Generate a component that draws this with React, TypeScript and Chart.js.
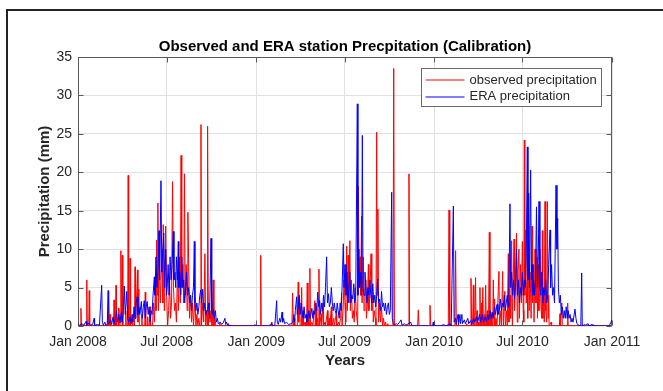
import React, { useEffect, useRef } from "react";
import { Chart, registerables } from "chart.js";

Chart.register(...registerables);

// ---------- data ----------
const chartTitle = "Observed and ERA station Precpitation (Calibration)";
const xAxisTitle = "Years";
const yAxisTitle = "Precipitation (mm)";

// x axis: days since 1 Jan 2008
const xTickDays = [0, 182, 366, 547, 731, 912, 1096];
const xTickLabels = ["Jan 2008", "Jul 2008", "Jan 2009", "Jul 2009", "Jan 2010", "Jul 2010", "Jan 2011"];
const yMin = 0;
const yMax = 35;
const yStep = 5;

const seriesLabels = ["observed precipitation", "ERA precipitation"];
const seriesColors = ["#ff0000", "#0000ff"];

// [day, mm]
const observedPrecip: [number, number][] = [
  [0, 0], [5, 0], [6, 2.3], [7, 0], [17, 0], [18, 6.0], [19, 0], [22, 0], [23, 4.6], [24, 0],
  [61, 0], [62, 4.6], [63, 0], [65, 0], [66, 1.5], [67, 0], [73, 0], [74, 3.4], [75, 0], [77, 0], [78, 5.3], [79, 0],
  [82, 0], [83, 2.3], [84, 0], [87, 0], [88, 9.8], [89, 0.5], [91, 9.2], [92, 0], [97, 0], [98, 2.0], [99, 0],
  [102, 0], [103, 19.6], [104, 0], [106, 0], [107, 8.8], [108, 0], [111, 0], [112, 1.5], [113, 0], [116, 0],
  [117, 7.7], [118, 1], [120, 3], [122, 7.3], [123, 0.5], [125, 4.8], [126, 0], [130, 0], [131, 1.5], [132, 0],
  [137, 0], [138, 4.4], [139, 0], [142, 0], [143, 1.2], [144, 0], [147, 0], [148, 2.5], [149, 0], [153, 0],
  [155, 3], [157, 0.5], [159, 6], [160, 2], [161.5, 11.2], [163, 4], [164, 16], [165, 2], [167, 9], [169, 3],
  [171, 7], [173, 10], [174, 3], [175, 13.2], [177, 2], [178, 6], [180, 13], [182, 4], [184, 0], [186, 2],
  [188, 6], [190, 1], [192, 3], [194, 18.8], [196, 5], [198, 2], [200, 3], [202, 0.5], [204, 7], [206, 2],
  [208, 9], [210, 3], [211.5, 22.2], [213, 5], [215, 8], [217, 3], [218.5, 19.8], [220, 4], [222, 8], [224, 2],
  [225.5, 14.8], [227, 8.8], [229, 1], [231, 4], [233, 0.5], [235, 3], [237, 0], [240, 3.6], [242, 0], [244, 1.5],
  [246, 0], [248, 1], [250, 0], [251, 0], [252.4, 26.2], [253.5, 0], [256, 3], [258, 0.5], [260.5, 9.4], [262, 0],
  [264, 2], [265, 0], [266, 26.0], [267.5, 0], [269, 3], [271, 0.5], [273, 2], [275, 0], [277.5, 6.0], [279, 0],
  [281, 1], [283, 0], [290, 0], [291, 0.4], [292, 0], [307, 0], [308, 0.3], [309, 0],
  [374, 0], [375, 9.2], [376, 0], [396, 0], [397, 0.5], [398, 0], [439, 0], [440.5, 4.3], [442, 0], [444, 1],
  [445, 0], [450, 0], [452, 5.7], [453, 0.5], [455, 3.5], [456, 0], [458, 0], [459, 5.0], [460, 0], [462, 2],
  [463, 0], [466, 0.5], [467, 0], [469, 0], [470.5, 5.6], [472, 0], [474, 1], [475, 0], [476, 7.5], [477, 0],
  [480, 0.5], [482, 0], [484, 1.5], [486, 3.3], [487, 0], [489, 2.5], [490, 0], [492, 1], [493, 0], [494.5, 7.4],
  [496, 0], [499, 1.5], [500, 0], [503, 3], [504, 0], [507, 0.5], [508, 0], [512, 2], [513, 0], [516, 1], [517, 0],
  [520, 2.5], [521, 0], [525, 1], [526, 0], [530, 1.5], [531, 0], [535, 0.5], [536, 0], [539, 1], [541, 4.3],
  [542, 0], [544, 2], [546, 6], [548, 3], [549.5, 0.5], [551.5, 10.4], [553, 2], [554.5, 9.2], [556, 3],
  [558, 11.1], [559, 2], [561, 6], [563, 1], [565, 2], [567, 0.5], [569, 5], [571, 2], [574, 0], [575.5, 18.2],
  [577, 5], [579, 9], [580, 4], [582, 14.3], [583, 3], [585.5, 9], [587, 2], [589, 4], [591, 6], [592, 1],
  [594, 3], [596, 8], [597, 2], [599, 4], [601.5, 9.4], [603, 2], [605, 4], [606, 0.5], [608, 2], [610, 1],
  [611.5, 0], [613, 25.2], [614, 4], [615.5, 15.2], [617, 0.5], [619, 3], [621, 0.5], [623, 2.5], [625, 0],
  [627, 1], [629, 0], [631, 0.5], [633, 0], [636, 0.3], [637, 0], [646.5, 0], [648, 33.5], [649.5, 0],
  [678, 0], [679.3, 19.8], [680.5, 0], [697, 0], [698.5, 2.1], [700, 0], [721, 0], [722.4, 2.7], [724, 0],
  [760, 0], [761.5, 15.1], [763, 0], [773.5, 0], [775, 9.8], [776.5, 0], [797, 0], [798, 0.3], [799, 0],
  [805, 0], [806.6, 6.2], [808, 0], [810, 0.5], [811.4, 5.3], [812.5, 0], [814.5, 0], [816, 6.3], [817, 0],
  [819, 2], [820, 0], [822, 0.5], [823, 0], [824, 0], [825, 5], [826, 0], [828, 3], [829, 0], [831, 5], [832, 0],
  [834, 1.5], [835, 0], [836.7, 5.3], [838, 0], [840, 2], [841, 0], [842.5, 0], [844.2, 12.2], [845.5, 0],
  [848, 1.5], [849, 0], [851, 0], [852.4, 6], [854, 0], [855, 3.5], [856, 0], [858, 1], [860, 0], [862, 0],
  [864, 7.1], [865, 0], [868, 2], [869, 0], [870, 0], [871.6, 7.1], [873, 0], [876, 4.5], [877, 0], [880, 2],
  [881, 0], [882, 0], [883.2, 9.4], [884.5, 0.5], [887, 4], [888, 1], [890, 11.1], [891.5, 0], [893, 5],
  [895, 11.3], [896, 2], [898, 6], [900, 12.1], [901.5, 0.5], [903, 7], [905, 10], [906, 1], [908, 8], [910, 3],
  [912, 11], [914, 2], [915, 0.5], [916, 24.2], [917, 4], [919, 12.5], [920, 3], [922, 6], [923, 1], [925, 13],
  [926, 2], [928, 7], [930, 1], [932, 13], [933, 3], [935, 8], [936, 0.5], [938, 10], [940, 3], [942, 9],
  [943, 1], [945, 8], [946, 2], [948, 10], [950, 3], [951.5, 1], [953, 12.4], [954, 1], [956, 4], [957, 0.5],
  [958.5, 16.2], [960, 2], [962, 0.5], [963.3, 16.2], [965, 1], [966, 4], [967, 0], [971, 0.5], [972, 0],
  [988, 0], [989.3, 1.6], [990, 0], [993, 3], [994, 0], [1004, 0], [1005, 3], [1006, 0], [1096, 0],
];

const eraPrecip: [number, number][] = [
  [0, 0.2], [3, 0.1], [8, 0.3], [12, 0.1], [16.5, 0.6], [18, 0.1], [22, 0.4], [25, 0.1], [30, 0.2], [33, 1.0],
  [34, 0.1], [40, 0.2], [44, 0.1], [48.6, 5.3], [50, 0.5], [52, 0.1], [55, 0.5], [57, 0.1], [60, 0.2],
  [62.3, 4.6], [64, 0.3], [67, 0.8], [69, 0.2], [72, 1.2], [74, 0.3], [77, 1.0], [79, 2], [81, 0.5], [84, 1.5],
  [86, 0.4], [89, 1.8], [91, 0.5], [93, 2], [95, 5.2], [97, 1.5], [100, 4.5], [102, 1], [104, 0.5], [107, 1.2],
  [109, 0.3], [111, 1.5], [113, 0.5], [115, 2.5], [117, 1], [119, 3], [121.8, 3.8], [123, 1.5], [125, 2.5],
  [127, 1.5], [130, 3.2], [132, 1], [134, 2.5], [136, 3.3], [138, 1], [140, 2.5], [142, 3.2], [144, 1.5],
  [146, 2.5], [148, 0.5], [150, 2], [152, 1.5], [154, 4], [156.7, 6.4], [158, 4], [160, 9], [162, 5], [164, 7],
  [166.3, 12.4], [167.5, 6], [170.3, 18.9], [172, 7], [174, 10], [176, 12.1], [178, 5], [180, 10], [181.5, 4],
  [183, 5], [185, 8], [187, 4], [189, 9], [191, 6], [193, 8], [195.6, 12.3], [197, 6], [199, 7], [200.5, 5],
  [202, 9], [204, 6], [205.9, 11], [207, 5], [209, 7], [211, 4], [213, 9], [215, 5], [217, 6], [219, 3], [221, 5],
  [223, 7], [225, 4], [227, 5], [229, 3], [231, 4], [233, 2], [235, 4], [237, 5], [238.7, 11], [240, 3], [242, 2],
  [244, 3], [246, 1.5], [248, 2.5], [250, 4], [252, 4.7], [254, 3], [256, 4.8], [258, 2], [260, 3], [262, 1.5],
  [264, 2], [266, 2], [268, 3], [270, 1], [273, 11.4], [274.5, 2], [276, 1.5], [278, 2.2], [280, 1], [282, 2],
  [284, 0.5], [286, 1], [288, 0.3], [292, 0.5], [295, 0.2], [298, 0.4], [301.6, 1.0], [303, 0.2], [305, 0.5],
  [307, 0.1], [312, 0.05], [320, 0], [360, 0], [363, 0.2], [366, 0], [390, 0], [396, 0.2], [398, 0.3], [399, 0],
  [404, 0.1], [407.7, 3.3], [409, 0.5], [411, 0.2], [414, 1], [416, 0.5], [418.8, 1.8], [420, 0.5], [422, 1],
  [424, 0.3], [428, 0.5], [432, 0.2], [438, 0.3], [441, 0.5], [443, 1.5], [444.5, 0.5], [446, 2], [448.8, 3.8],
  [450, 1.5], [452, 2.5], [454, 4], [456, 1.5], [458, 3], [460, 2], [462, 1], [464, 2.5], [466, 1], [468, 1.5],
  [470, 0.5], [472, 1], [474, 2], [476, 1], [478, 1.5], [480, 2.3], [482, 1], [484, 2], [486, 1.5], [488, 3],
  [490, 2], [492, 4.4], [494, 2.5], [496, 3.3], [498, 1.5], [500, 3], [502, 2], [504, 4], [506, 2.5], [508, 5],
  [510.3, 9.0], [512, 3], [514, 4.2], [516, 2.5], [518, 3], [520, 5], [522, 3], [524, 2], [526, 3], [528, 2],
  [530, 1.5], [532, 3], [534, 2], [536, 1], [538, 3], [540, 2], [542, 5], [544.5, 10.7], [546, 5], [548, 8],
  [550, 4], [552, 7], [554, 3], [556, 5], [558, 7], [560, 3], [562, 4], [564, 3.5], [566, 5.5], [568, 3], [570, 4],
  [573.3, 28.9], [574.5, 4], [576.5, 10], [578, 5], [580, 7], [582, 4], [583.6, 24.8], [585, 5], [587, 4],
  [589, 7], [591, 5], [593, 3], [595, 5], [597, 4], [599, 6], [601, 4], [603, 3], [605, 5.5], [607, 3], [609, 4],
  [611, 2.5], [613, 4], [615, 6.1], [617, 3], [619, 3.5], [621, 2], [623, 4.5], [625, 2.5], [627, 3], [629, 2],
  [631, 3], [633, 1.5], [635, 2.5], [637, 3], [639, 1.5], [641, 2], [643.8, 17.4], [645, 1], [647, 0.3],
  [649, 0.1], [653, 0.3], [656, 0.2], [660, 0.5], [663, 0.8], [665, 0.1], [670, 0.3], [673, 0.1], [683, 0.5],
  [685, 0.1], [690, 0], [728, 0], [729, 0.5], [730, 0], [745, 0], [750, 0.2], [755, 0], [764, 0.3], [766, 0],
  [770.4, 15.6], [772, 0.5], [775, 1], [776, 0.2], [780, 1.5], [781, 0.2], [784, 1.5], [785, 0.3], [788, 1.5],
  [789, 0.3], [793, 0.8], [795, 0.3], [800, 1], [802, 0.3], [806, 0.7], [808, 0.2], [812, 1], [814, 0.5],
  [818, 1.2], [820, 0.4], [824, 1.5], [826, 0.5], [830, 1.5], [832, 0.5], [836, 1.2], [838, 0.6], [841, 1.5],
  [843, 0.8], [846, 2], [848, 1], [850, 1.8], [852, 1], [855, 2.5], [857, 1.5], [860, 2.8], [862, 1.5],
  [865, 2.2], [867, 3.5], [869, 2], [871, 3], [873, 2.5], [875, 4], [877, 2], [879, 3], [881, 4], [883, 2.5],
  [884.5, 5], [886.6, 15.9], [888, 5], [890, 7], [892, 4], [894, 6], [896, 3.5], [898, 5], [900, 10], [902, 4],
  [904, 6], [906, 3], [908, 5], [910, 4], [912, 7], [914, 4], [916, 6], [918, 5], [920, 9], [922.2, 23.3],
  [923.5, 6], [925, 17.3], [926.5, 5], [929, 20.3], [930.5, 6], [932, 8], [933.5, 4], [935, 6], [937, 4],
  [939, 6], [941, 15.5], [943, 5], [944.5, 8], [946.2, 16.2], [948, 5], [950, 4], [952, 7], [954, 3], [956, 5],
  [958, 4], [960, 6], [962, 3], [964, 4], [966, 8], [968.8, 12.5], [970, 5], [972, 8], [974, 4], [976, 5],
  [978, 3], [981.1, 18.3], [983, 10], [984.5, 14], [986, 5], [988, 3], [990, 4], [992, 1.5], [994, 2.5],
  [996, 1], [998, 2], [1000, 1], [1002, 2.5], [1004, 1], [1006, 2], [1008, 1], [1010, 1.5], [1012, 0.5],
  [1014, 1], [1016, 0.5], [1020, 2.2], [1022, 1], [1024, 0.3], [1028, 0.1], [1032, 0], [1033.8, 6.9],
  [1035, 0], [1040, 0.2], [1042, 0.1], [1047, 0.3], [1049, 0], [1055, 0.2], [1057, 0], [1090, 0],
  [1094, 0.5], [1096, 0.8],
];

// ---------- styling ----------
const FONT = "'Liberation Sans', Arial, Helvetica, sans-serif";
const textColor = "#262626";
const gridColor = "#e2e2e2";
const boxColor = "#5a5a5a";

const matlabBoxPlugin = {
  id: "matlabBox",
  beforeDatasetsDraw(chart: any) {
    const { ctx, chartArea: a, scales } = chart;
    const l = Math.round(a.left) + 0.5;
    const r = Math.round(a.right) - 0.5;
    const t = Math.round(a.top) + 0.5;
    const b = Math.round(a.bottom) - 0.5;
    const tick = 5;
    ctx.save();
    ctx.strokeStyle = boxColor;
    ctx.lineWidth = 1;
    ctx.beginPath();
    ctx.rect(l, t, r - l, b - t);
    for (const v of xTickDays) {
      const px = Math.round(scales.x.getPixelForValue(v)) + 0.5;
      ctx.moveTo(px, b);
      ctx.lineTo(px, b - tick);
      ctx.moveTo(px, t);
      ctx.lineTo(px, t + tick);
    }
    for (let v = yMin; v <= yMax; v += yStep) {
      const py = Math.round(scales.y.getPixelForValue(v)) + 0.5;
      ctx.moveTo(l, py);
      ctx.lineTo(l + tick, py);
      ctx.moveTo(r, py);
      ctx.lineTo(r - tick, py);
    }
    ctx.stroke();
    ctx.restore();
  },
};

const insideLegendPlugin = {
  id: "insideLegend",
  afterDatasetsDraw(chart: any) {
    const { ctx, chartArea: a } = chart;
    const ds = chart.data.datasets;
    ctx.save();
    ctx.font = `13px ${FONT}`;
    let maxW = 0;
    for (const d of ds) maxW = Math.max(maxW, ctx.measureText(d.label).width);
    const lineLen = 39;
    const w = Math.round(4 + lineLen + 5 + maxW + 5);
    const rowH = 16.5;
    const h = 38;
    const x0 = Math.round(a.right - 11 - w) + 0.5;
    const y0 = Math.round(a.top + 11) + 0.5;
    ctx.fillStyle = "#ffffff";
    ctx.fillRect(x0, y0, w, h);
    ctx.strokeStyle = "#6a6a6a";
    ctx.lineWidth = 1;
    ctx.strokeRect(x0, y0, w, h);
    ds.forEach((d: any, i: number) => {
      const cy = y0 + 11.5 + i * rowH;
      ctx.strokeStyle = d.borderColor;
      ctx.lineWidth = 1.2;
      ctx.beginPath();
      ctx.moveTo(x0 + 4, Math.round(cy));
      ctx.lineTo(x0 + 4 + lineLen, Math.round(cy));
      ctx.stroke();
      ctx.fillStyle = textColor;
      ctx.textBaseline = "middle";
      ctx.textAlign = "left";
      ctx.fillText(d.label, x0 + 4 + lineLen + 5, cy);
    });
    ctx.restore();
  },
};

export default function App() {
  const canvasRef = useRef<HTMLCanvasElement | null>(null);

  useEffect(() => {
    const canvas = canvasRef.current;
    if (!canvas) return;
    const chart = new Chart(canvas, {
      type: "line",
      data: {
        datasets: [
          {
            label: seriesLabels[0],
            data: observedPrecip as any,
            borderColor: seriesColors[0],
            backgroundColor: seriesColors[0],
            borderWidth: 1,
            pointRadius: 0,
            tension: 0,
            fill: false,
            order: 1,
          },
          {
            label: seriesLabels[1],
            data: eraPrecip as any,
            borderColor: seriesColors[1],
            backgroundColor: seriesColors[1],
            borderWidth: 1,
            pointRadius: 0,
            tension: 0,
            fill: false,
            order: 0,
          },
        ],
      },
      options: {
        animation: false,
        responsive: false,
        maintainAspectRatio: false,
        devicePixelRatio: 1,
        layout: { padding: { left: 0, right: 51, top: 0, bottom: 0 } },
        plugins: {
          legend: { display: false },
          tooltip: { enabled: false },
          title: {
            display: true,
            fullSize: false,
            text: chartTitle,
            color: "#000000",
            font: { family: FONT, size: 15, weight: "bold" },
            padding: { top: 38, bottom: 1 },
          },
        },
        scales: {
          x: {
            type: "linear",
            min: xTickDays[0],
            max: xTickDays[xTickDays.length - 1],
            afterBuildTicks: (s: any) => {
              s.ticks = xTickDays.map((v) => ({ value: v }));
            },
            afterFit: (s: any) => {
              s.height = 65;
            },
            ticks: {
              autoSkip: false,
              maxRotation: 0,
              minRotation: 0,
              padding: 8,
              color: textColor,
              font: { family: FONT, size: 14 },
              callback: (_v: any, i: number) => xTickLabels[i],
            },
            grid: { color: gridColor, drawTicks: false, lineWidth: 1 },
            border: { display: false },
            title: {
              display: true,
              text: xAxisTitle,
              color: textColor,
              font: { family: FONT, size: 15, weight: "bold" },
              padding: { top: 0, bottom: 21 },
            },
          },
          y: {
            type: "linear",
            min: yMin,
            max: yMax,
            afterFit: (s: any) => {
              s.width = 78;
            },
            ticks: {
              stepSize: yStep,
              padding: 6,
              color: textColor,
              font: { family: FONT, size: 14 },
            },
            grid: { color: gridColor, drawTicks: false, lineWidth: 1 },
            border: { display: false },
            title: {
              display: true,
              text: yAxisTitle,
              color: textColor,
              font: { family: FONT, size: 15, weight: "bold" },
              padding: { top: 36, bottom: 0 },
            },
          },
        },
      },
      plugins: [matlabBoxPlugin, insideLegendPlugin],
    });
    return () => chart.destroy();
  }, []);

  return (
    <div style={{ position: "absolute", left: 0, top: 0, width: 663, height: 391, background: "#ffffff", overflow: "hidden" }}>
      <canvas ref={canvasRef} width={663} height={391} style={{ display: "block", width: 663, height: 391 }} />
      <div
        style={{
          position: "absolute",
          left: 6,
          top: 9,
          width: 700,
          height: 420,
          borderLeft: "2px solid #222",
          borderTop: "2px solid #222",
          pointerEvents: "none",
        }}
      />
    </div>
  );
}
